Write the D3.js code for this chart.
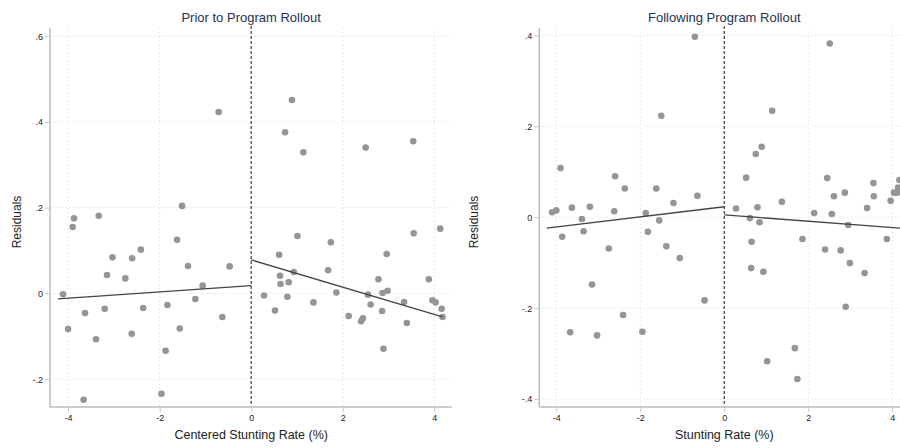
<!DOCTYPE html>
<html>
<head>
<meta charset="utf-8">
<script src="https://cdn.jsdelivr.net/npm/d3@7"></script>
<style>
  body { margin: 0; background: #fff; }
  svg { font-family: "Liberation Sans", Arial, sans-serif; display: block; }
  .grid line { stroke: #d8d8d8; stroke-dasharray: 1,3; }
  .tick-lab { font-size: 9px; fill: #222; }
</style>
</head>
<body>
<div id="vis"></div>
<script>
// panel 1 - prior to rollout
const PRIOR_X = [-3.87,-3.33,-1.51,-0.71,0.89,0.74,1.14,2.50,3.54,
  -3.90,-4.11,-4.00,-3.63,-3.66,-3.39,-3.20,-3.15,-3.03,-2.75,-2.61,-2.60,-2.41,-2.36,
  -1.96,-1.87,-1.83,-1.62,-1.56,-1.38,-1.22,-1.06,-0.63,-0.47,
  0.28,0.52,0.61,0.63,0.64,0.79,0.82,0.93,1.01,1.36,1.68,1.74,1.86,2.13,2.40,2.44,
  2.55,2.61,2.78,2.86,2.87,2.89,2.96,2.98,3.34,3.40,3.55,3.88,3.96,4.03,4.13,4.16,4.18];
const PRIOR_Y = [0.175,0.181,0.204,0.423,0.451,0.376,0.329,0.340,0.355,
  0.155,-0.002,-0.083,-0.046,-0.248,-0.107,-0.036,0.043,0.084,0.035,-0.094,0.082,0.102,-0.034,
  -0.234,-0.134,-0.027,0.125,-0.082,0.064,-0.013,0.018,-0.055,0.063,
  -0.005,-0.040,0.090,0.041,0.022,-0.008,0.026,0.050,0.134,-0.021,0.054,0.119,0.002,-0.053,-0.065,-0.058,
  -0.003,-0.026,0.033,-0.041,0.001,-0.129,0.092,0.006,-0.020,-0.069,0.140,0.033,-0.016,-0.021,0.151,-0.036,-0.055];
const PRIOR_FIT_LEFT = [[-4.22, -0.013], [0, 0.018]];
const PRIOR_FIT_RIGHT = [[0, 0.078], [4.18, -0.055]];

// panel 2 - following rollout
const POST_X = [-4.10,-4.00,-3.90,-3.63,-3.39,-3.20,-2.62,-2.60,-2.37,-1.87,-1.62,-1.55,-1.50,-1.21,-0.70,-0.64,
  0.28,0.52,0.61,0.75,0.79,0.84,0.89,1.14,1.37,2.14,2.45,2.51,2.56,2.61,2.87,3.40,3.55,3.56,3.96,4.04,4.12,4.14,4.17,
  -3.86,-3.35,-2.75,-3.15,-3.67,-3.03,-2.41,-1.95,-1.82,-1.38,-1.06,-0.47,
  0.65,0.64,0.93,1.02,1.68,1.74,1.86,2.40,2.77,2.95,2.99,2.89,3.34,3.87];
const POST_Y = [0.011,0.015,0.108,0.021,-0.004,0.023,0.013,0.090,0.063,0.009,0.063,-0.007,0.223,0.031,0.397,0.047,
  0.019,0.087,-0.002,0.139,0.022,-0.011,0.155,0.234,0.034,0.009,0.086,0.382,0.007,0.046,0.054,0.020,0.075,0.046,0.036,0.054,0.054,0.065,0.082,
  -0.043,-0.031,-0.069,-0.148,-0.253,-0.260,-0.215,-0.252,-0.032,-0.064,-0.090,-0.183,
  -0.054,-0.112,-0.120,-0.317,-0.288,-0.356,-0.048,-0.071,-0.073,-0.017,-0.101,-0.197,-0.123,-0.048];
const POST_FIT_LEFT = [[-4.23, -0.024], [0, 0.023]];
const POST_FIT_RIGHT = [[0, 0.005], [4.2, -0.024]];

const X_TICKS = [-4, -2, 0, 2, 4];
const PRIOR_Y_TICKS = [-0.2, 0, 0.2, 0.4, 0.6];
const POST_Y_TICKS = [-0.4, -0.2, 0, 0.2, 0.4];

const FRAME_WIDTH = 900;
const FRAME_HEIGHT = 448;
const PLOT_TOP = 28;
const PLOT_BOTTOM = 407;

const SVG = d3.select("#vis")
              .append("svg")
              .attr("width", FRAME_WIDTH)
              .attr("height", FRAME_HEIGHT)
              .style("overflow", "hidden");

function tickFmt(v) {
  // stata style: .2, -.4, 0
  if (v === 0) return "0";
  let s = Math.abs(v) >= 1 ? String(v) : String(v).replace("0.", ".");
  return s;
}

function drawPanel(cfg) {
  const X_SCALE = d3.scaleLinear().domain(cfg.xDomain).range(cfg.xRange);
  const Y_SCALE = d3.scaleLinear().domain(cfg.yDomain).range([PLOT_BOTTOM, PLOT_TOP]);
  const g = SVG.append("g");

  const x0 = cfg.xRange[0], x1 = cfg.xRange[1];

  // grid
  const grid = g.append("g").attr("class", "grid");
  grid.selectAll(".hg").data(cfg.yTicks).enter().append("line")
      .attr("x1", x0).attr("x2", x1)
      .attr("y1", d => Y_SCALE(d)).attr("y2", d => Y_SCALE(d));
  grid.selectAll(".vg").data(X_TICKS.filter(d => d !== 0)).enter().append("line")
      .attr("y1", PLOT_TOP).attr("y2", PLOT_BOTTOM)
      .attr("x1", d => X_SCALE(d)).attr("x2", d => X_SCALE(d));

  // cutoff line
  g.append("line")
   .attr("x1", X_SCALE(0)).attr("x2", X_SCALE(0))
   .attr("y1", PLOT_TOP - 2).attr("y2", PLOT_BOTTOM)
   .attr("stroke", "#555").attr("stroke-width", 1.4)
   .attr("stroke-dasharray", "3,2");

  // axes
  const xAxis = g.append("g")
     .attr("transform", "translate(0," + PLOT_BOTTOM + ")")
     .call(d3.axisBottom(X_SCALE).tickValues(X_TICKS).tickFormat(tickFmt).tickSize(5).tickSizeOuter(0).tickPadding(3));
  const yAxis = g.append("g")
     .attr("transform", "translate(" + x0 + ",0)")
     .call(d3.axisLeft(Y_SCALE).tickValues(cfg.yTicks).tickFormat(tickFmt).tickSize(5).tickSizeOuter(0).tickPadding(2));
  [xAxis, yAxis].forEach(a => {
    a.select(".domain").attr("stroke", "#bdbdbd").attr("stroke-width", 1.5);
    a.selectAll(".tick line").attr("stroke", "#c8c8c8");
    a.selectAll(".tick text").attr("class", "tick-lab").attr("font-family", null).attr("font-size", null).attr("fill", null);
  });
  // extend axis lines to the corner
  yAxis.select(".domain").attr("d", "M0," + PLOT_TOP + "V" + PLOT_BOTTOM);
  xAxis.select(".domain").attr("d", "M" + x0 + ",0H" + x1);

  // points
  const pts = cfg.xs.map((x, i) => ({x: x, y: cfg.ys[i]}));
  g.selectAll(".point").data(pts).enter().append("circle")
   .attr("class", "point")
   .attr("cx", d => X_SCALE(d.x))
   .attr("cy", d => Y_SCALE(d.y))
   .attr("r", 3.3)
   .attr("fill", "#959595");

  // fit lines
  const line = d3.line().x(d => X_SCALE(d[0])).y(d => Y_SCALE(d[1]));
  [cfg.fitL, cfg.fitR].forEach(f => {
    g.append("path").attr("d", line(f))
     .attr("fill", "none").attr("stroke", "#444").attr("stroke-width", 1.3);
  });

  // titles and labels
  g.append("text")
   .attr("x", X_SCALE(0)).attr("y", 22)
   .attr("text-anchor", "middle")
   .attr("font-size", 13).attr("fill", "#1f2f4f")
   .text(cfg.title);
  g.append("text")
   .attr("x", X_SCALE(0)).attr("y", 439)
   .attr("text-anchor", "middle")
   .attr("font-size", 12.5).attr("fill", "#222")
   .text(cfg.xLabel);
  g.append("text")
   .attr("transform", "translate(" + (cfg.yLabelX) + "," + 222 + ") rotate(-90)")
   .attr("text-anchor", "middle")
   .attr("font-size", 12).attr("fill", "#222")
   .text("Residuals");
}

drawPanel({
  xs: PRIOR_X, ys: PRIOR_Y, fitL: PRIOR_FIT_LEFT, fitR: PRIOR_FIT_RIGHT,
  xDomain: [-4.395, 4.38], xRange: [50, 451.7],
  yDomain: [-0.265, 0.619], yTicks: PRIOR_Y_TICKS,
  title: "Prior to Program Rollout", xLabel: "Centered Stunting Rate (%)", yLabelX: 21
});

drawPanel({
  xs: POST_X, ys: POST_Y, fitL: POST_FIT_LEFT, fitR: POST_FIT_RIGHT,
  xDomain: [-4.405, 4.405], xRange: [539.3, 909.3],
  yDomain: [-0.4175, 0.4162], yTicks: POST_Y_TICKS,
  title: "Following Program Rollout", xLabel: "Stunting Rate (%)", yLabelX: 478
});
</script>
</body>
</html>
